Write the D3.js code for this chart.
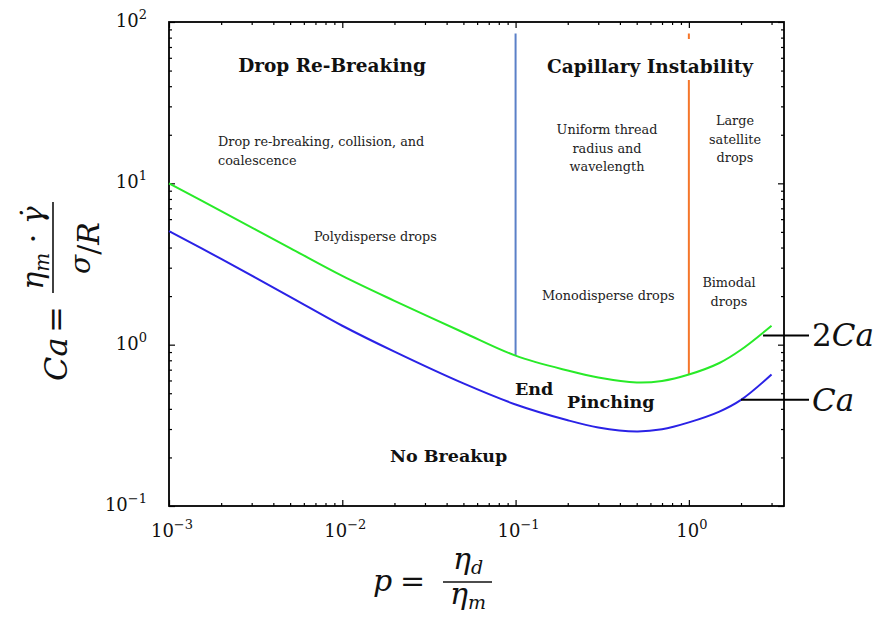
<!DOCTYPE html>
<html>
<head>
<meta charset="UTF-8">
<title>drop breakup regimes</title>
<script src="https://cdn.jsdelivr.net/npm/d3@7"></script>
<style>
  body { margin: 0; background: #fff; }
  svg { display: block; }
</style>
</head>
<body>
<div id="chart"></div>
<script>
// viscosity ratio p = eta_d / eta_m
var pValues = [0.001, 0.002, 0.005, 0.01, 0.02, 0.05, 0.1, 0.2, 0.3, 0.5, 0.7, 1, 1.5, 2, 3];
// critical capillary number (blue) and 2Ca (green)
var caCritical = [5.06, 3.40, 1.98, 1.31, 0.905, 0.575, 0.426, 0.340, 0.307, 0.290, 0.299, 0.330, 0.385, 0.455, 0.653];
var caDouble = [10.0, 6.72, 3.97, 2.67, 1.87, 1.19, 0.855, 0.691, 0.626, 0.583, 0.596, 0.653, 0.770, 0.930, 1.31];

// vertical regime boundaries
var boundaryP = [0.1, 1];
var boundaryTop = [85, 85];
var boundaryBottom = [0.855, 0.653];

// curve tags on the right
var tagText = ["2Ca", "Ca"];
var tagP = [2.68, 2.0];
var tagCa = [1.14, 0.455];

// tick labels
var xMajor = [1e-3, 1e-2, 1e-1, 1];
var xExp = ["\u22123", "\u22122", "\u22121", "0"];
var yMajor = [0.1, 1, 10, 100];
var yExp = ["\u22121", "0", "1", "2"];

var SERIF = "'DejaVu Serif', serif";
var width = 877, height = 618;
// note: "top" is window.top, so use other names
var plotL = 169, plotR = 784, plotT = 22, plotB = 506;

var svg = d3.select("#chart").append("svg")
    .attr("width", width)
    .attr("height", height)
    .style("font-family", SERIF);

svg.append("rect").attr("width", width).attr("height", height).attr("fill", "#fff");

var x = d3.scaleLog().domain([1e-3, 3.54]).range([plotL, plotR]);
var y = d3.scaleLog().domain([0.1, 100]).range([plotB, plotT]);

function isMajor(d) {
    var l = Math.log10(d);
    return Math.abs(l - Math.round(l)) < 1e-9;
}

// axes: ticks pointing inward on all four sides
var xt = x.ticks(), yt = y.ticks();
function tickAxis(axis, attr, sign) {
    return function(g) {
        g.call(axis.tickFormat("").tickSizeOuter(0));
        g.select(".domain").remove();
        g.selectAll(".tick line")
            .attr(attr, function(d) { return sign * (isMajor(d) ? 6 : 3); })
            .attr("stroke", "#000")
            .attr("stroke-width", 1.2);
    };
}
svg.append("g").attr("transform", "translate(0," + plotB + ")")
    .call(tickAxis(d3.axisBottom(x).tickValues(xt), "y2", -1));
svg.append("g").attr("transform", "translate(0," + plotT + ")")
    .call(tickAxis(d3.axisTop(x).tickValues(xt), "y2", 1));
svg.append("g").attr("transform", "translate(" + plotL + ",0)")
    .call(tickAxis(d3.axisLeft(y).tickValues(yt), "x2", 1));
svg.append("g").attr("transform", "translate(" + plotR + ",0)")
    .call(tickAxis(d3.axisRight(y).tickValues(yt), "x2", -1));

svg.append("rect")
    .attr("x", plotL).attr("y", plotT)
    .attr("width", plotR - plotL).attr("height", plotB - plotT)
    .attr("fill", "none").attr("stroke", "#000").attr("stroke-width", 1.8);

// tick labels 10^n
function powerLabel(sel, exps) {
    sel.append("tspan").text("10");
    sel.append("tspan")
        .attr("dy", -8)
        .attr("font-size", 13)
        .text(function(d, i) { return exps[i]; });
}
svg.append("g").selectAll("text")
    .data(xMajor).join("text")
    .attr("x", function(d) { return x(d) + 3; })
    .attr("y", plotB + 31)
    .attr("text-anchor", "middle")
    .attr("font-size", 18)
    .attr("fill", "#111")
    .call(powerLabel, xExp);
svg.append("g").selectAll("text")
    .data(yMajor).join("text")
    .attr("x", 147)
    .attr("y", function(d) { return y(d) + 5; })
    .attr("text-anchor", "end")
    .attr("font-size", 18)
    .attr("fill", "#111")
    .call(powerLabel, yExp);

// boundaries between regimes
var boundaryColors = ["#5b80c8", "#f5762a"];
svg.append("g").selectAll("line")
    .data(boundaryP).join("line")
    .attr("x1", function(d) { return x(d); })
    .attr("x2", function(d) { return x(d); })
    .attr("y1", function(d, i) { return y(boundaryTop[i]); })
    .attr("y2", function(d, i) { return y(boundaryBottom[i]); })
    .attr("stroke", function(d, i) { return boundaryColors[i]; })
    .attr("stroke-width", 2);

// curves
var line = d3.line()
    .x(function(d, i) { return x(pValues[i]); })
    .y(function(d) { return y(d); })
    .curve(d3.curveCatmullRom.alpha(0.5));
svg.append("path").datum(caDouble)
    .attr("d", line).attr("fill", "none")
    .attr("stroke", "#28ea28").attr("stroke-width", 2);
svg.append("path").datum(caCritical)
    .attr("d", line).attr("fill", "none")
    .attr("stroke", "#2a22e6").attr("stroke-width", 2);

// region labels
var titles = [
    {t: "Drop Re-Breaking", x: 332, y: 72, a: "middle", s: 18.5, b: true},
    {t: "Capillary Instability", x: 650, y: 73, a: "middle", s: 18.5, b: true, box: true},
    {t: "End", x: 515, y: 395, a: "start", s: 17.5, b: true},
    {t: "Pinching", x: 567, y: 408, a: "start", s: 17.5, b: true},
    {t: "No Breakup", x: 390, y: 462, a: "start", s: 17.5, b: true}
];
var notes = [
    {t: ["Drop re-breaking, collision, and", "coalescence"], x: 218, y: 146, a: "start"},
    {t: ["Polydisperse drops"], x: 314, y: 241, a: "start"},
    {t: ["Uniform thread", "radius and", "wavelength"], x: 607, y: 134, a: "middle"},
    {t: ["Large", "satellite", "drops"], x: 735, y: 125, a: "middle"},
    {t: ["Monodisperse drops"], x: 542, y: 300, a: "start"},
    {t: ["Bimodal", "drops"], x: 729, y: 287, a: "middle"}
];

titles.forEach(function(d) {
    var tx = svg.append("text")
        .attr("x", d.x).attr("y", d.y)
        .attr("text-anchor", d.a)
        .attr("font-size", d.s)
        .attr("font-weight", d.b ? "bold" : "normal")
        .attr("fill", "#111")
        .text(d.t);
    if (d.box) {
        var bb = tx.node().getBBox();
        svg.insert("rect", function() { return tx.node(); })
            .attr("x", bb.x - 4).attr("y", 39)
            .attr("width", bb.width + 8).attr("height", 41)
            .attr("fill", "#fff");
    }
});

notes.forEach(function(d) {
    var tx = svg.append("text")
        .attr("x", d.x).attr("y", d.y)
        .attr("text-anchor", d.a)
        .attr("font-size", 12.8)
        .attr("fill", "#222");
    tx.selectAll("tspan").data(d.t).join("tspan")
        .attr("x", d.x)
        .attr("dy", function(t, i) { return i ? 18.5 : 0; })
        .text(function(t) { return t; });
});

// tags for the two curves
tagText.forEach(function(t, i) {
    var cy = y(tagCa[i]);
    svg.append("line")
        .attr("x1", x(tagP[i])).attr("x2", 809)
        .attr("y1", cy).attr("y2", cy)
        .attr("stroke", "#000").attr("stroke-width", 2);
    var tx = svg.append("text")
        .attr("x", 812).attr("y", cy + 11)
        .attr("font-size", 31)
        .attr("fill", "#111");
    if (t.charAt(0) === "2") {
        tx.append("tspan").text("2");
        tx.append("tspan").attr("font-style", "italic").text("Ca");
    } else {
        tx.append("tspan").attr("font-style", "italic").text("Ca");
    }
});

// x axis label: p = eta_d / eta_m
var xl = svg.append("g").attr("fill", "#111");
xl.append("text").attr("x", 373).attr("y", 591).attr("font-size", 30)
    .attr("font-style", "italic").text("p");
xl.append("text").attr("x", 400).attr("y", 591).attr("font-size", 30).text("=");
xl.append("line").attr("x1", 443).attr("x2", 492).attr("y1", 582).attr("y2", 582)
    .attr("stroke", "#111").attr("stroke-width", 1.6);
function etaSub(g, cx, by, sub) {
    var t = g.append("text").attr("x", cx).attr("y", by)
        .attr("text-anchor", "middle").attr("font-size", 30).attr("font-style", "italic");
    t.append("tspan").text("\u03b7");
    t.append("tspan").attr("font-size", 19).attr("dy", 5).text(sub);
}
etaSub(xl, 468, 569, "d");
etaSub(xl, 468, 604, "m");

// y axis label: Ca = eta_m * gamma_dot / (sigma / R)
var yl = svg.append("g").attr("fill", "#111")
    .attr("transform", "translate(67,381) rotate(-90)");
yl.append("text").attr("x", 0).attr("y", 0).attr("font-size", 32)
    .attr("font-style", "italic").text("Ca");
yl.append("text").attr("x", 48).attr("y", 0).attr("font-size", 32).text("=");
yl.append("line").attr("x1", 88).attr("x2", 179).attr("y1", -14).attr("y2", -14)
    .attr("stroke", "#111").attr("stroke-width", 1.6);
var num = yl.append("text").attr("x", 133).attr("y", -24)
    .attr("text-anchor", "middle").attr("font-size", 30).attr("font-style", "italic");
num.append("tspan").text("\u03b7");
num.append("tspan").attr("font-size", 20).attr("dy", 6).text("m");
num.append("tspan").attr("dy", -6).attr("font-style", "normal").text(" \u00b7 ");
num.append("tspan").text("\u03b3\u0307");
var den = yl.append("text").attr("x", 133).attr("y", 32)
    .attr("text-anchor", "middle").attr("font-size", 30).attr("font-style", "italic");
den.append("tspan").attr("dy", -9).attr("font-size", 28).text("\u03c3");
den.append("tspan").attr("dy", 9).attr("font-style", "normal").text("/");
den.append("tspan").text("R");
</script>
</body>
</html>
